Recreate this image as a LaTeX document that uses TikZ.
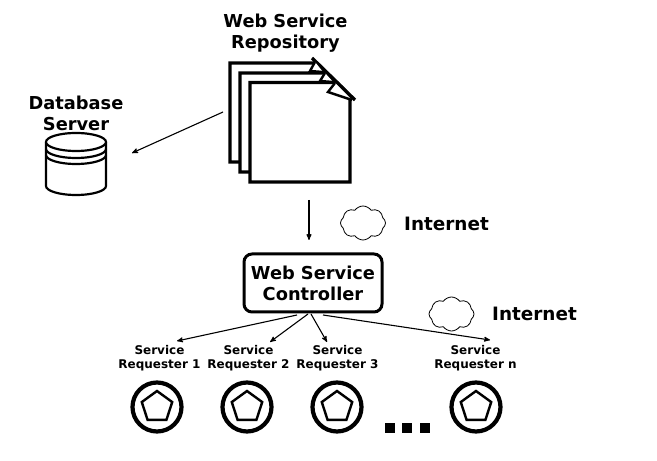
\documentclass[tikz,border=0pt]{standalone}
\usepackage{fontspec}
\setmainfont{DejaVu Sans}
\usetikzlibrary{arrows,shapes,positioning,calc}
\tikzset{
  ->,
  >=stealth',
  bigtext/.style={font=\bfseries\fontsize{17.8}{21}\selectfont,align=center,inner sep=0pt},
  nettext/.style={font=\bfseries\fontsize{18.4}{21}\selectfont,inner sep=0pt},
  smalltext/.style={font=\bfseries\fontsize{12}{14}\selectfont,align=center,inner sep=0pt},
  sheet/.style={-,line width=3.3pt,fill=white},
  foldmark/.style={-,line width=2.4pt,fill=white,miter limit=10},
  ring/.style={circle,draw,line width=4.2pt,minimum size=49pt,inner sep=0pt},
  penta/.style={regular polygon,regular polygon sides=5,draw,line width=2.4pt,minimum size=32pt,inner sep=0pt},
  netcloud/.style={cloud,cloud puffs=8,cloud puff arc=110,aspect=1.35,draw,line width=.8pt,inner sep=0pt},
  ctrlbox/.style={draw,rounded corners=8pt,line width=3pt,minimum width=138pt,minimum height=58pt,align=center,
    font=\bfseries\fontsize{17.8}{21}\selectfont,inner sep=0pt},
  dots/.style={fill=black,rectangle,minimum size=10pt,inner sep=0pt},
  drum/.style={-,line width=2.2pt,fill=white},
  link/.style={->,line width=1.1pt}
}
\begin{document}
\begin{tikzpicture}[x=1pt,y=1pt]
  \useasboundingbox (0,0) rectangle (657,461);
  \fill[white] (0,0) rectangle (657,461);

  % repository
  \node [bigtext] (repolabel) at (285.5,428) {Web Service\\Repository};
  \foreach \dx in {0,10}{
    \draw [sheet,shift={(\dx,-\dx)}] (230,398) -- (317,398) -- (337,378) -- (337,299) -- (230,299) -- cycle;
  }
  \draw [sheet] (250,378.5) -- (337,378.5) -- (350,365) -- (350,279) -- (250,279) -- cycle;
  \draw [-,line width=3.3pt] (312,403) -- (355,361);
  \draw [foldmark] (315,399) -- (310,390) -- (323,389);
  \draw [foldmark] (325,388) -- (320,380) -- (333,379);
  \draw [foldmark] (335,378) -- (328,369) -- (352,361);
  \coordinate (repoout) at (223,349);
  \coordinate (repodown) at (309,261);

  % database
  \node [bigtext] (dblabel) at (76,348) {Database\\Server};
  \coordinate (db) at (76,319);
  \draw [drum] ($(db)+(-30,0)$) -- ($(db)+(-30,-44)$) arc (180:360:30 and 9) -- ($(db)+(30,0)$);
  \draw [drum] (db) ellipse (30 and 9);
  \draw [-,line width=2.2pt] ($(db)+(-30,-7)$) arc (180:360:30 and 9);
  \draw [-,line width=2.2pt] ($(db)+(-30,-13)$) arc (180:360:30 and 9);
  \coordinate (dbin) at (132,308);
  \draw [link] (repoout) -- (dbin);

  % controller
  \node [ctrlbox] (ctrl) at (313,178) {Web Service\\Controller};
  \coordinate (ctrlin) at (309,221);
  \draw [link] (repodown) -- (ctrlin);
  \node [netcloud,minimum width=45pt,minimum height=34pt] (cloud1) at (363,238) {};
  \node [nettext,anchor=west] (net1) at (404,237.5) {Internet};
  \node [netcloud,minimum width=45pt,minimum height=34pt] (cloud2) at (451.5,147) {};
  \node [nettext,anchor=west] (net2) at (492,147.5) {Internet};

  % requesters
  \foreach \name/\xpos/\xtxt/\txt in {a/157/159.5/1,b/247/248.5/2,c/337/337.5/3,d/476/475.5/n}{
    \node [smalltext] (lab\name) at (\xtxt,103) {Service\\Requester \txt};
    \node [ring] (ring\name) at (\xpos,54) {};
    \node [penta] (pent\name) at (\xpos,54) {};
  }
  \coordinate (ctrla) at (297,146);
  \coordinate (ctrlb) at (308,147);
  \coordinate (ctrlc) at (311,147);
  \coordinate (ctrld) at (323,146);
  \coordinate (ina) at (177,120);
  \coordinate (inb) at (270,119);
  \coordinate (inc) at (327,119);
  \coordinate (ind) at (490,121);
  \draw [link] (ctrla) -- (ina);
  \draw [link] (ctrlb) -- (inb);
  \draw [link] (ctrlc) -- (inc);
  \draw [link] (ctrld) -- (ind);

  \node [dots] (dot1) at (390,33) {};
  \node [dots,right=7pt of dot1] (dot2) {};
  \node [dots,right=7pt of dot2] (dot3) {};
\end{tikzpicture}
\end{document}
